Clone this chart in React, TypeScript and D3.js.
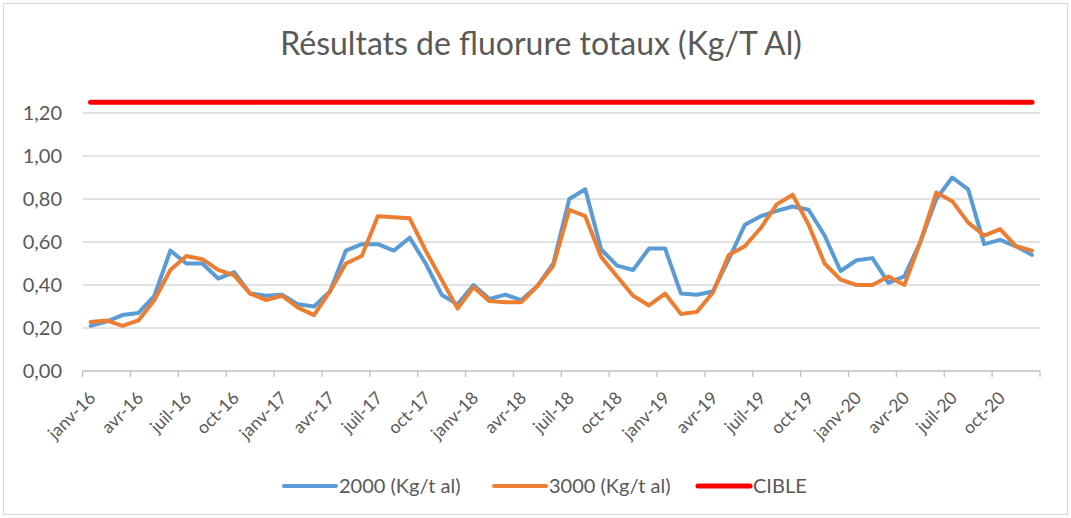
import * as d3 from "d3";

const MONTHS: Date[] = d3.timeMonth.range(new Date(2016, 0, 1), new Date(2021, 0, 1));

const TICK_LABELS = [
  "janv-16", "avr-16", "juil-16", "oct-16",
  "janv-17", "avr-17", "juil-17", "oct-17",
  "janv-18", "avr-18", "juil-18", "oct-18",
  "janv-19", "avr-19", "juil-19", "oct-19",
  "janv-20", "avr-20", "juil-20", "oct-20",
];

const SERIES_2000 = [
  0.21, 0.23, 0.26, 0.27, 0.35, 0.56, 0.5, 0.5, 0.43, 0.46, 0.36, 0.35,
  0.355, 0.31, 0.3, 0.37, 0.56, 0.59, 0.59, 0.56, 0.62, 0.5, 0.355, 0.31,
  0.4, 0.335, 0.355, 0.33, 0.395, 0.5, 0.8, 0.845, 0.565, 0.49, 0.47, 0.57,
  0.57, 0.36, 0.355, 0.37, 0.52, 0.68, 0.72, 0.745, 0.765, 0.75, 0.63, 0.465,
  0.515, 0.525, 0.41, 0.44, 0.6, 0.8, 0.9, 0.845, 0.59, 0.61, 0.58, 0.54,
];

const SERIES_3000 = [
  0.228, 0.235, 0.21, 0.235, 0.33, 0.47, 0.535, 0.52, 0.47, 0.445, 0.36, 0.33,
  0.35, 0.295, 0.26, 0.37, 0.5, 0.535, 0.72, 0.715, 0.71, 0.56, 0.425, 0.29,
  0.39, 0.325, 0.32, 0.32, 0.395, 0.49, 0.75, 0.72, 0.53, 0.44, 0.35, 0.305,
  0.36, 0.265, 0.275, 0.365, 0.54, 0.58, 0.665, 0.775, 0.82, 0.68, 0.5, 0.425,
  0.4, 0.4, 0.44, 0.4, 0.6, 0.83, 0.79, 0.69, 0.63, 0.66, 0.58, 0.56,
];

const CIBLE = MONTHS.map(() => 1.25);

const Y_TICKS = [0, 0.2, 0.4, 0.6, 0.8, 1.0, 1.2];

const WIDTH = 1071;
const HEIGHT = 518;
const LEFT = 82.6;
const RIGHT = 1040;
const TOP = 113;
const BOTTOM = 371;
const FONT = "Lato, 'Open Sans', sans-serif";
const TEXT = "#595959";
const GRID = "#d9d9d9";

const LEGEND = [
  { label: "2000 (Kg/t al)", color: "#5b9bd5", x: 284, width: 4 },
  { label: "3000 (Kg/t al)", color: "#ed7d31", x: 494, width: 4 },
  { label: "CIBLE", color: "#ff0000", x: 698, width: 5 },
];

export default function App() {
  const x = d3
    .scaleBand<number>()
    .domain(d3.range(MONTHS.length))
    .range([LEFT, RIGHT]);
  const y = d3.scaleLinear().domain([0, 1.2]).range([BOTTOM, TOP]);
  const cx = (i: number) => (x(i) ?? 0) + x.bandwidth() / 2;

  const line = d3
    .line<number>()
    .x((_, i) => cx(i))
    .y((d) => y(d));

  const fmt = (v: number) => v.toFixed(2).replace(".", ",");
  const tickIdx = d3.range(0, MONTHS.length + 1, 3);

  return (
    <div style={{ position: "absolute", left: 0, top: 0 }}>
      <svg width={WIDTH} height={HEIGHT} style={{ display: "block", fontFamily: FONT }}>
        <rect x={0} y={0} width={WIDTH} height={HEIGHT} fill="#fff" />
        <rect x={3.5} y={3.5} width={WIDTH - 7} height={HEIGHT - 7} fill="none" stroke={GRID} />

        <text x={541} y={55} textAnchor="middle" fontSize={32} fill={TEXT}>
          Résultats de fluorure totaux (Kg/T Al)
        </text>

        {/* grid + y labels */}
        {Y_TICKS.map((t) => (
          <g key={t}>
            {t > 0 && (
              <line x1={LEFT} x2={RIGHT} y1={y(t)} y2={y(t)} stroke={GRID} strokeWidth={1.3} />
            )}
            <text x={62} y={y(t)} dy="0.35em" textAnchor="end" fontSize={20} fill={TEXT}>
              {fmt(t)}
            </text>
          </g>
        ))}

        {/* x axis */}
        <line x1={LEFT} x2={RIGHT} y1={BOTTOM} y2={BOTTOM} stroke="#bfbfbf" strokeWidth={1.3} />
        {tickIdx.map((i) => {
          const tx = i < MONTHS.length ? x(i) ?? 0 : RIGHT;
          return <line key={i} x1={tx} x2={tx} y1={BOTTOM} y2={BOTTOM + 6} stroke="#bfbfbf" strokeWidth={1.3} />;
        })}
        {TICK_LABELS.map((lab, k) => {
          const lx = cx(k * 3) + 6;
          const ly = BOTTOM + 28;
          return (
            <text
              key={lab}
              x={lx}
              y={ly}
              textAnchor="end"
              fontSize={17.5}
              fill={TEXT}
              transform={`rotate(-45 ${lx} ${ly})`}
            >
              {lab}
            </text>
          );
        })}

        {/* series */}
        <path d={line(CIBLE) ?? ""} fill="none" stroke="#ff0000" strokeWidth={5} strokeLinecap="round" />
        <path d={line(SERIES_2000) ?? ""} fill="none" stroke="#5b9bd5" strokeWidth={4} strokeLinejoin="round" strokeLinecap="round" />
        <path d={line(SERIES_3000) ?? ""} fill="none" stroke="#ed7d31" strokeWidth={4} strokeLinejoin="round" strokeLinecap="round" />

        {/* legend */}
        {LEGEND.map((l) => (
          <g key={l.label}>
            <line x1={l.x} x2={l.x + 52} y1={486} y2={486} stroke={l.color} strokeWidth={l.width} strokeLinecap="round" />
            <text x={l.x + 55} y={486} dy="0.35em" fontSize={20} fill={TEXT}>
              {l.label}
            </text>
          </g>
        ))}
      </svg>
    </div>
  );
}
